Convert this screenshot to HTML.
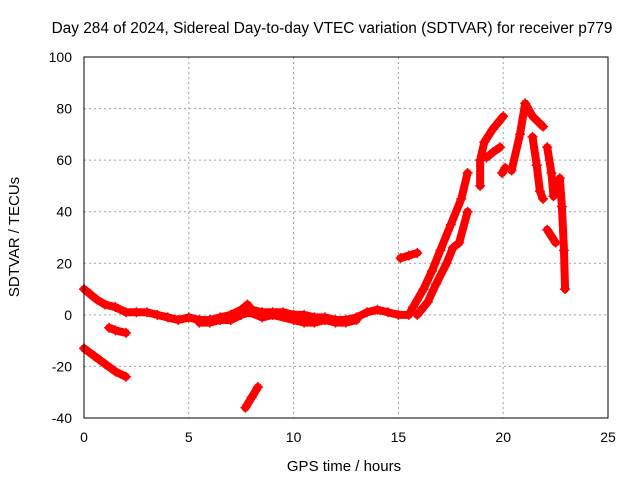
<!DOCTYPE html>
<html><head><meta charset="utf-8"><style>
body{margin:0;background:#fff;}
svg{display:block;font-family:"Liberation Sans",sans-serif;}
</style></head><body>
<svg id="chart" width="640" height="480">
<rect width="640" height="480" fill="#fff"/>
<text x="332" y="33" font-size="15.4" text-anchor="middle">Day 284 of 2024, Sidereal Day-to-day VTEC variation (SDTVAR) for receiver p779</text>
<g id="grid"></g>
<g id="ticks"></g>
<g id="marks"></g>
<rect x="84" y="57" width="524" height="361" fill="none" stroke="#000"/>
<text x="344" y="471" font-size="15" text-anchor="middle">GPS time / hours</text>
<text x="19" y="237" font-size="15" text-anchor="middle" transform="rotate(-90 19 237)">SDTVAR / TECUs</text>
</svg>
<script>
const xTicks=[0,5,10,15,20,25];
const yTicks=[-40,-20,0,20,40,60,80,100];
const trackMainT=[0,0.3,0.6,1,1.5,2,2.5,3,3.5,4,4.5,5,5.5,6,6.5,7,7.5,7.8,8,8.5,9,9.5,10,10.5,11,11.5,12,12.5,13,13.5,14,14.5,15,15.5,15.7,16.2,16.6,17,17.5,18,18.3];
const trackMainV=[10,8,6,4,3,1,1,1,0,-1,-2,-1,-2,-2,-1,0,2,4,2,1,1,1,0,0,-1,-1,-2,-2,-1,1,2,1,0,0,3,10,17,25,35,45,55];
const trackBandT=[5.5,6,6.5,7,7.5,7.9,8.5,9,10,10.5,11,11.5,12,12.5,13];
const trackBandV=[-3,-3,-2,-2,0,1,-1,0,-2,-3,-3,-2,-3,-3,-2];
const trackBT=[1.2,1.5,2];
const trackBV=[-5,-6,-7];
const trackCT=[0,0.5,1,1.5,2];
const trackCV=[-13,-16,-19,-22,-24];
const trackDT=[7.7,8,8.3];
const trackDV=[-36,-32,-28];
const trackET=[15.1,15.5,15.9];
const trackEV=[22,23,24];
const trackFT=[15.9,16.4,16.8,17.3,17.6,17.9,18.3];
const trackFV=[0,5,12,20,26,28,40];
const trackGT=[18.9,18.9,19.1,19.5,20];
const trackGV=[50,60,67,72,77];
const trackG2T=[19.2,19.5,19.85];
const trackG2V=[61,63,65];
const trackHT=[20.4,20.8,21.05,21.4,21.9];
const trackHV=[56,70,82,77,73];
const trackIT=[21.4,21.6,21.75,21.9];
const trackIV=[69,58,48,45];
const trackJT=[22.1,22.3,22.4];
const trackJV=[65,55,46];
const trackKT=[22.7,22.8,22.9,22.95];
const trackKV=[53,42,25,10];
const trackLT=[22.1,22.5];
const trackLV=[33,28];
const trackMT=[19.95,20.1];
const trackMV=[55,57];
const tracks=[[trackMainT,trackMainV],[trackBandT,trackBandV],[trackBT,trackBV],[trackCT,trackCV],[trackDT,trackDV],[trackET,trackEV],[trackFT,trackFV],[trackGT,trackGV],[trackG2T,trackG2V],[trackHT,trackHV],[trackIT,trackIV],[trackJT,trackJV],[trackKT,trackKV],[trackLT,trackLV],[trackMT,trackMV]];
const NS='http://www.w3.org/2000/svg';
const X=h=>84+h*524/25;
const Y=v=>418-(v+40)*361/140;
const grid=document.getElementById('grid'),ticks=document.getElementById('ticks'),marks=document.getElementById('marks');
function mk(tag,attrs,parent){const e=document.createElementNS(NS,tag);for(const k in attrs)e.setAttribute(k,attrs[k]);parent.appendChild(e);return e;}
xTicks.forEach(t=>{
  if(t>0&&t<25){const g=mk('line',{x1:X(t),x2:X(t),y1:57,y2:418,stroke:'#a0a0a0','stroke-dasharray':'2,3'},grid);
  
  }
  const l=mk('text',{x:X(t),y:442,'font-size':14,'text-anchor':'middle'},ticks);l.textContent=t;
  
  
});
yTicks.forEach(t=>{
  if(t>-40&&t<100){const g=mk('line',{x1:84,x2:608,y1:Y(t),y2:Y(t),stroke:'#a0a0a0','stroke-dasharray':'2,3'},grid);
  
  }
  const l=mk('text',{x:72,y:Y(t)+5,'font-size':14,'text-anchor':'end'},ticks);l.textContent=t;
  
  
});
tracks.forEach(([ts,vs])=>{
  const pts=ts.map((t,i)=>X(t)+','+Y(vs[i])).join(' ');
  const p=mk('polyline',{points:pts,fill:'none',stroke:'#ff0000','stroke-width':8,'stroke-linejoin':'round','stroke-linecap':'round'},marks);
  
  
  ts.forEach((t,i)=>{
    const x=X(t),y=Y(vs[i]);
    const m=mk('path',{d:`M${x-5},${y}H${x+5}M${x},${y-5}V${y+5}`,stroke:'#ff0000','stroke-width':1.5},marks);
    
    
  });
});
</script>
</body></html>
